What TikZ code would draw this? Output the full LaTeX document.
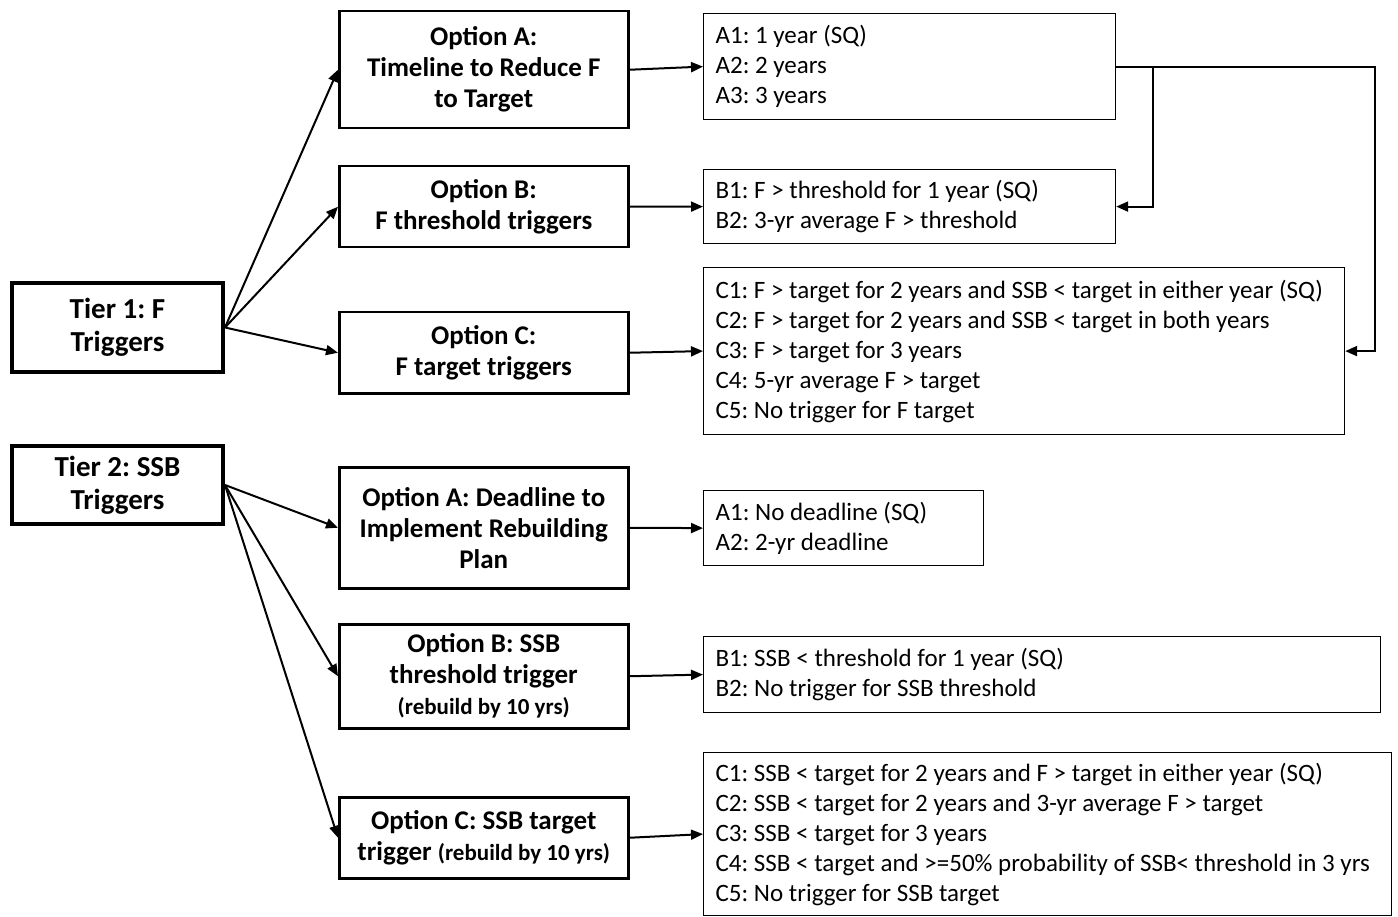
\documentclass[tikz,border=0pt]{standalone}
\usepackage{fontspec}
\setmainfont{Carlito}
\usetikzlibrary{arrows.meta}
\tikzset{
    tier/.style = {draw, line width=4pt, anchor=north west, align=center, inner sep=0pt,
        font=\fontsize{29}{33}\selectfont\bfseries},
    opt/.style = {draw, line width=2.5pt, anchor=north west, align=center, inner sep=0pt,
        font=\fontsize{27}{31}\selectfont\bfseries},
    choices/.style = {draw, line width=1.2pt, anchor=north west, align=flush left,
        inner xsep=12pt, inner ysep=0pt, font=\fontsize{25}{30}\selectfont},
    link/.style = {line width=2pt, -{Triangle[length=12pt,width=10pt]}},
}
\newcommand{\rebuild}{\fontsize{23}{26}\selectfont(rebuild by 10 yrs)}
\frenchspacing

\begin{document}
\begin{tikzpicture}[x=1pt, y=-1pt]
\useasboundingbox (0,0) rectangle (1398,917);

% tiers
\node[tier, minimum width=211pt, minimum height=89pt] (t1) at (10,281) {Tier 1: F\\Triggers};
\node[tier, minimum width=211pt, minimum height=78pt] (t2) at (10,444) {Tier 2: SSB\\Triggers};

% F options
\node[opt, minimum width=289pt, minimum height=117pt] (fa) at (338,10) {Option A:\\Timeline to Reduce F\\to Target};
\node[opt, minimum width=289pt, minimum height=81pt] (fb) at (338,165) {Option B:\\F threshold triggers};
\node[opt, minimum width=289pt, minimum height=81pt] (fc) at (338,311) {Option C:\\F target triggers};

% SSB options
\node[opt, minimum width=289pt, minimum height=121pt] (sa) at (338,466) {Option A: Deadline to\\Implement Rebuilding\\Plan};
\node[opt, minimum width=289pt, minimum height=104pt] (sb) at (338,623) {Option B: SSB\\threshold trigger\\{\rebuild}};
\node[opt, minimum width=289pt, minimum height=81pt] (sc) at (338,796) {Option C: SSB target\\trigger {\rebuild}};

% F choices
\node[choices, text width=388pt, minimum height=106pt] (fla) at (703,13)
    {A1: 1 year (SQ)\\A2: 2 years\\A3: 3 years};
\node[choices, text width=388pt, minimum height=74pt] (flb) at (703,169)
    {B1: F > threshold for 1 year (SQ)\\B2: 3-yr average F > threshold};
\node[choices, text width=617pt, minimum height=167pt] (flc) at (703,267)
    {C1: F > target for 2 years and SSB < target in either year (SQ)\\
     C2: F > target for 2 years and SSB < target in both years\\
     C3: F > target for 3 years\\
     C4: 5-yr average F > target\\
     C5: No trigger for F target};

% SSB choices
\node[choices, text width=256pt, minimum height=75pt] (sla) at (703,490)
    {A1: No deadline (SQ)\\A2: 2-yr deadline};
\node[choices, text width=653pt, minimum height=76pt] (slb) at (703,636)
    {B1: SSB < threshold for 1 year (SQ)\\B2: No trigger for SSB threshold};
\node[choices, text width=664pt, minimum height=163pt] (slc) at (703,752)
    {C1: SSB < target for 2 years and F > target in either year (SQ)\\
     C2: SSB < target for 2 years and 3-yr average F > target\\
     C3: SSB < target for 3 years\\
     C4: SSB < target and >=50\% probability of SSB< threshold in 3 yrs\\
     C5: No trigger for SSB target};

% tier -> options
\draw[link] (t1.east) -- (fa.west);
\draw[link] (t1.east) -- (fb.west);
\draw[link] (t1.east) -- (fc.west);
\draw[link] (t2.east) -- (sa.west);
\draw[link] (t2.east) -- (sb.west);
\draw[link] (t2.east) -- (sc.west);

% options -> choices
\draw[link] (fa.east) -- (fla.west);
\draw[link] (fb.east) -- (flb.west);
\draw[link] (fc.east) -- (flc.west);
\draw[link] (sa.east) -- (sla.west);
\draw[link] (sb.east) -- (slb.west);
\draw[link] (sc.east) -- (slc.west);

% A choices carry over to B and C
\path (fla.east) ++(37,0) coordinate (split);
\draw[link] (fla.east) -- ++(259,0) |- (flc.east);
\draw[link] (split) |- (flb.east);
\end{tikzpicture}
\end{document}
